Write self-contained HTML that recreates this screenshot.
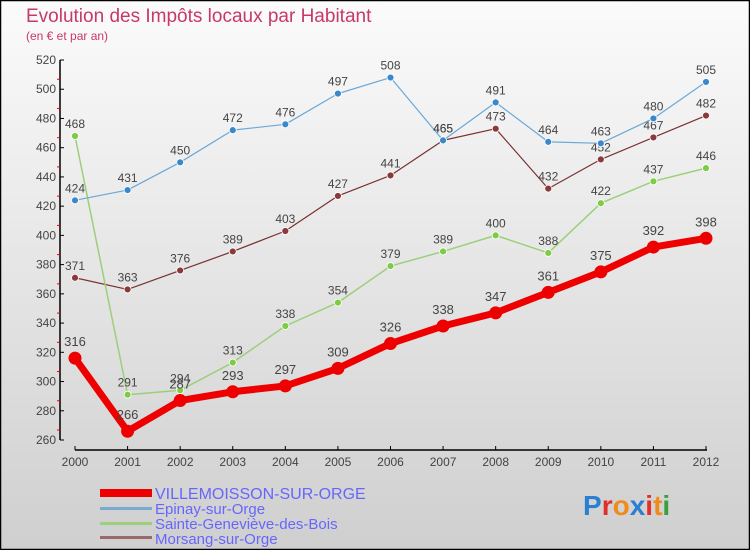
<!DOCTYPE html>
<html><head><meta charset="utf-8"><style>
body{margin:0;width:750px;height:550px;overflow:hidden;font-family:"Liberation Sans",sans-serif}
svg{display:block}
</style></head><body>
<svg id="chart" width="750" height="550" xmlns="http://www.w3.org/2000/svg">
<defs><linearGradient id="bg" x1="0" y1="0" x2="0" y2="1"><stop offset="0" stop-color="#fbfbfb"/><stop offset="1" stop-color="#cfcfcf"/></linearGradient></defs>
<rect x="0.5" y="0.5" width="749" height="549" fill="url(#bg)" stroke="#000" stroke-width="1.5"/>
<text x="26" y="22" font-size="19" fill="#c8386a" font-weight="300">Evolution des Impôts locaux par Habitant</text>
<text x="26" y="40" font-size="12" fill="#c8386a">(en € et par an)</text>
<g id="axes"></g><g id="series"></g>
<g font-size="15" fill="#6666ff">
<rect x="100" y="489" width="52" height="8" fill="#ee0000"/>
<text x="155" y="499" font-size="16" fill="#6666ff">VILLEMOISSON-SUR-ORGE</text>
<rect x="100" y="507" width="52" height="3" fill="#7aaad0"/>
<text x="155" y="514" fill="#6666ff">Epinay-sur-Orge</text>
<rect x="100" y="522" width="52" height="3" fill="#9ad07a"/>
<text x="155" y="529" fill="#6666ff">Sainte-Geneviève-des-Bois</text>
<rect x="100" y="536" width="52" height="3" fill="#9a6a6a"/>
<text x="155" y="544" fill="#6666ff">Morsang-sur-Orge</text>
</g>
<g font-size="28" font-weight="bold" font-family="Liberation Sans,sans-serif">
<text x="583" y="515"><tspan fill="#2a7fd0">P</tspan><tspan fill="#e0302a">r</tspan><tspan fill="#f08a1a">o</tspan><tspan fill="#2a7fd0">x</tspan><tspan fill="#e0302a">i</tspan><tspan fill="#f08a1a">t</tspan><tspan fill="#3aa03a">i</tspan></text>
</g>
</svg>
<script>
const years=["2000","2001","2002","2003","2004","2005","2006","2007","2008","2009","2010","2011","2012"];
const yTicks=[260,280,300,320,340,360,380,400,420,440,460,480,500,520];
const villemoisson=[316,266,287,293,297,309,326,338,347,361,375,392,398];
const epinay=[424,431,450,472,476,497,508,465,491,464,463,480,505];
const sainteGenevieve=[468,291,294,313,338,354,379,389,400,388,422,437,446];
const morsang=[371,363,376,389,403,427,441,465,473,432,452,467,482];
const NS="http://www.w3.org/2000/svg";
function xs(i){return 75+i*(706-75)/(years.length-1);}
function ys(v){return 440-(v-260)*380/260;}
function mk(tag,attrs,parent){const e=document.createElementNS(NS,tag);for(const k in attrs)e.setAttribute(k,attrs[k]);parent.appendChild(e);return e;}
const ax=document.getElementById('axes');
let yl=mk('line',{x1:60,y1:60,x2:60,y2:440,stroke:'#000','stroke-width':1.5},ax);


let xl=mk('line',{x1:75,y1:450,x2:707,y2:450,stroke:'#000','stroke-width':1.5},ax);


yTicks.forEach(v=>{
 const y=ys(v);
 mk('line',{x1:60,y1:y,x2:64,y2:y,stroke:'#000'},ax);
 if(v<520)mk('line',{x1:57,y1:y-10,x2:60,y2:y-10,stroke:'#e00'},ax);
 const t=mk('text',{x:56,y:y+4,'text-anchor':'end','font-size':12,fill:'#444'},ax);
 
 
 t.textContent=v;
});
years.forEach((yr,i)=>{
 const x=xs(i);
 mk('line',{x1:x,y1:446,x2:x,y2:450,stroke:'#000'},ax);
 const t=mk('text',{x:x,y:466,'text-anchor':'middle','font-size':12,fill:'#444'},ax);
 
 
 t.textContent=yr;
});
const sg=document.getElementById('series');
function draw(data,name,color,w,r,pcolor,fs){
 const g=mk('g',{},sg);
 
 
 const pl=mk('polyline',{points:data.map((v,i)=>xs(i)+','+ys(v)).join(' '),fill:'none',stroke:color,'stroke-width':w,'stroke-linejoin':'round'},g);
 
 
 data.forEach((v,i)=>{
  const c=mk('circle',{cx:xs(i),cy:ys(v),r:r,fill:pcolor,stroke:'#fff','stroke-width':w>3?0:0.8},g);
  
  
  const t=mk('text',{x:xs(i),y:ys(v)-(w>3?12:8),'text-anchor':'middle','font-size':fs,fill:'#444'},g);
  
  
  t.textContent=v;
 });
}
draw(morsang,'morsang','#7a3030',1.2,3.5,'#8a3a3a',12);
draw(sainteGenevieve,'sainte-genevieve','#9ad07a',1.5,3.5,'#7ccc44',12);
draw(epinay,'epinay','#6aa8d8',1.2,3.5,'#3a88cc',12);
draw(villemoisson,'villemoisson','#ee0000',7,6.5,'#ee0000',13);
</script>
</body></html>
